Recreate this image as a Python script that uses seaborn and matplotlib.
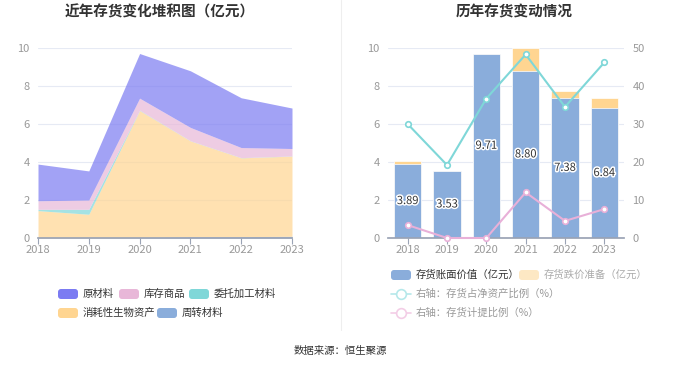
import numpy as np
import matplotlib
matplotlib.use("Agg")
import matplotlib.pyplot as plt
import matplotlib.patheffects as pe
from matplotlib.patches import FancyBboxPatch
from matplotlib.lines import Line2D
from matplotlib.transforms import Affine2D
import seaborn as sns

# ---- data ----
years = [2018, 2019, 2020, 2021, 2022, 2023]
year_labels = [str(y) for y in years]

# stacked area (亿元), bottom -> top
zhouzhuan = [0.01, 0.01, 0.02, 0.07, 0.07, 0.09]        # 周转材料
xiaohao = [1.43, 1.24, 6.69, 5.04, 4.15, 4.22]          # 消耗性生物资产
weituo = [0.07, 0.26, 0.02, 0.01, 0.01, 0.01]           # 委托加工材料
kucun = [0.45, 0.49, 0.63, 0.70, 0.53, 0.39]            # 库存商品
yuancailiao = [1.93, 1.53, 2.35, 2.98, 2.62, 2.13]      # 原材料

# bar + line chart
book_value = [3.89, 3.53, 9.71, 8.80, 7.38, 6.84]       # 存货账面价值（亿元）
provision = [0.15, 0.0, 0.0, 1.20, 0.35, 0.54]          # 存货跌价准备（亿元）
ratio_net_assets = [30.0, 19.2, 36.7, 48.3, 34.5, 46.2] # 存货占净资产比例（%）
ratio_provision = [3.4, 0.0, 0.0, 12.0, 4.5, 7.6]       # 存货计提比例（%）

sns.set_theme(style="white")
plt.rcParams['font.family'] = ['Noto Sans CJK SC', 'DejaVu Sans']

W, H = 680, 367
fig = plt.figure(figsize=(W / 100, H / 100), dpi=100)
px = Affine2D().scale(1 / W, -1 / H).translate(0, 1) + fig.transFigure

tick_col = '#999999'
grid_col = '#e6eaf4'
axis_col = '#9aa3b5'

# ---- left: stacked area ----
ax1 = fig.add_axes([38 / W, 1 - 238 / H, 254 / W, 190 / H])
area_cols = ['#8aaddb', '#ffd591', '#7fd7d8', '#e8b7d8', '#7b7bf2']
ax1.stackplot(years, zhouzhuan, xiaohao, weituo, kucun, yuancailiao,
              colors=area_cols, alpha=0.7, linewidth=0)
ax1.set_xlim(2018, 2023)
ax1.set_ylim(0, 10)
ax1.set_yticks([0, 2, 4, 6, 8, 10])
ax1.set_xticks(years)
ax1.grid(axis='y', color=grid_col, linewidth=0.8)
ax1.set_axisbelow(True)
for s in ['top', 'right', 'left']:
    ax1.spines[s].set_visible(False)
ax1.spines['bottom'].set_color(axis_col)
ax1.tick_params(axis='x', colors=tick_col, labelsize=8, length=4, width=0.8,
                direction='out', pad=1, color=axis_col, bottom=True)
ax1.tick_params(axis='y', colors=tick_col, labelsize=8, length=0, pad=6)

# ---- right: bars + lines ----
ax2 = fig.add_axes([388 / W, 1 - 238 / H, 236 / W, 190 / H])
totals = [b + p for b, p in zip(book_value, provision)]
sns.barplot(x=year_labels, y=totals, color='#ffd591', saturation=1, width=0.7,
            edgecolor='white', linewidth=0.5, ax=ax2)
sns.barplot(x=year_labels, y=book_value, color='#8aaddb', saturation=1, width=0.7,
            edgecolor='white', linewidth=0.5, ax=ax2)
for i, v in enumerate(book_value):
    ax2.text(i, v / 2, f"{v:.2f}", ha='center', va='center', fontsize=8,
             color='#333333',
             path_effects=[pe.withStroke(linewidth=2.2, foreground='white')])
ax2.set_xlim(-0.5, 5.5)
ax2.set_ylim(0, 10)
ax2.set_yticks([0, 2, 4, 6, 8, 10])
ax2.set_xlabel('')
ax2.set_ylabel('')
ax2.grid(axis='y', color=grid_col, linewidth=0.8)
ax2.set_axisbelow(True)
for s in ['top', 'right', 'left']:
    ax2.spines[s].set_visible(False)
ax2.spines['bottom'].set_color(axis_col)
ax2.tick_params(axis='x', colors=tick_col, labelsize=8, length=4, width=0.8,
                direction='out', pad=1, color=axis_col, bottom=True)
ax2.tick_params(axis='y', colors=tick_col, labelsize=8, length=0, pad=6)

ax3 = ax2.twinx()
idx = np.arange(len(years))
sns.lineplot(x=idx, y=ratio_net_assets, ax=ax3, color='#7fd7d8', linewidth=1.5,
             marker='o', markersize=4, markerfacecolor='white',
             markeredgecolor='#7fd7d8', markeredgewidth=1.2, clip_on=False)
sns.lineplot(x=idx, y=ratio_provision, ax=ax3, color='#e8b0d8', linewidth=1.5,
             marker='o', markersize=4, markerfacecolor='white',
             markeredgecolor='#e8b0d8', markeredgewidth=1.2, clip_on=False)
ax3.set_ylim(0, 50)
ax3.set_yticks([0, 10, 20, 30, 40, 50])
ax3.set_ylabel('')
for s in ['top', 'right', 'left', 'bottom']:
    ax3.spines[s].set_visible(False)
ax3.tick_params(axis='y', colors=tick_col, labelsize=8, length=0, pad=6)

# ---- titles ----
fig.text(160, 12, "近年存货变化堆积图（亿元）", transform=px, ha='center', va='center',
         fontsize=10.5, fontweight='bold', color='#333333')
fig.text(514, 12, "历年存货变动情况", transform=px, ha='center', va='center',
         fontsize=10.5, fontweight='bold', color='#333333')

# ---- separator ----
fig.add_artist(Line2D([341, 341], [0, 330], transform=px, color='#eeeeee', linewidth=0.8))

# ---- legends ----
def patch_item(x, y, color, label, tcol='#333333'):
    fig.add_artist(FancyBboxPatch((x, y - 5), 20, 10, transform=px,
                                  boxstyle='round,pad=0,rounding_size=3',
                                  facecolor=color, edgecolor='none'))
    fig.text(x + 25, y, label, transform=px, ha='left', va='center',
             fontsize=7.5, color=tcol)

def line_item(x, y, color, label, tcol='#999999'):
    fig.add_artist(Line2D([x, x + 20], [y, y], transform=px, color=color,
                          linewidth=1.2))
    fig.add_artist(Line2D([x + 10], [y], transform=px, color=color, marker='o',
                          markersize=7, markerfacecolor='white',
                          markeredgecolor=color, markeredgewidth=1.2))
    fig.text(x + 25, y, label, transform=px, ha='left', va='center',
             fontsize=7.5, color=tcol)

patch_item(58, 294, '#7b7bf2', '原材料')
patch_item(119, 294, '#e8b7d8', '库存商品')
patch_item(189, 294, '#7fd7d8', '委托加工材料')
patch_item(58, 313, '#ffd591', '消耗性生物资产')
patch_item(157, 313, '#8aaddb', '周转材料')

patch_item(391, 275, '#8aaddb', '存货账面价值（亿元）')
patch_item(519, 275, '#fde8c4', '存货跌价准备（亿元）', tcol='#aaaaaa')
line_item(391, 294, '#b5e8ea', '右轴：存货占净资产比例（%）')
line_item(391, 313, '#f3cde6', '右轴：存货计提比例（%）')

fig.text(340, 351, "数据来源：恒生聚源", transform=px, ha='center', va='center',
         fontsize=7.5, color='#333333')

fig.savefig('out.png', dpi=100)
